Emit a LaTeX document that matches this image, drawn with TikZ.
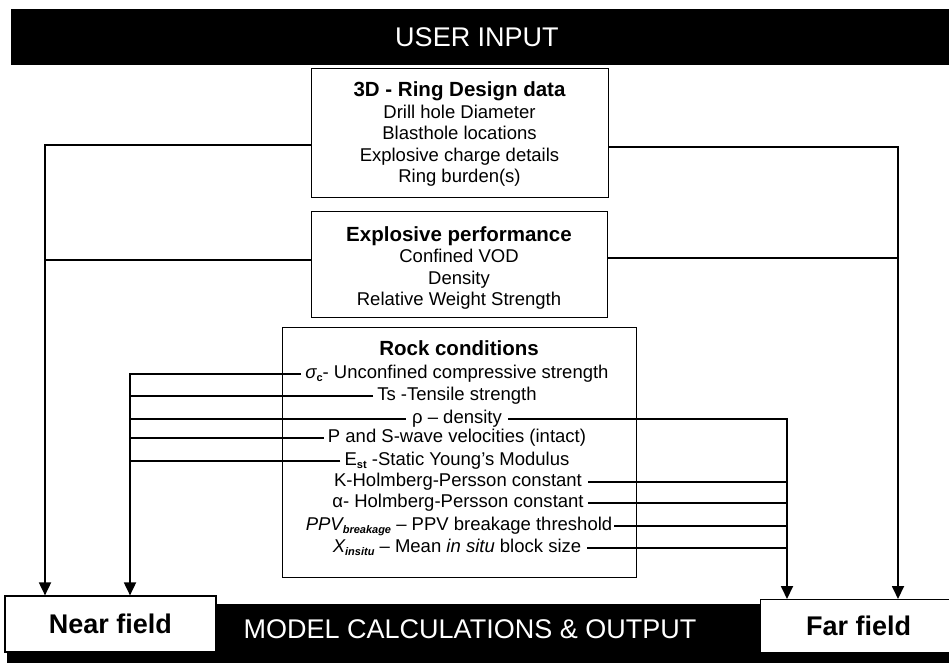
\documentclass[tikz,border=0pt]{standalone}
\usepackage{fontspec}
\setmainfont{Liberation Sans}
\usetikzlibrary{arrows.meta}
\newcommand\sbold[1]{\raisebox{-3pt}{\fontsize{11}{11}\selectfont\bfseries #1}}
\newcommand\sboldit[1]{\raisebox{-3pt}{\fontsize{11}{11}\selectfont\bfseries\itshape #1}}
\begin{document}
\begin{tikzpicture}[x=1pt,y=-1pt,
  box/.style={draw=black, line width=1.2pt, fill=white, inner sep=0pt},
  conn/.style={line width=1.8pt},
  arr/.style={line width=1.8pt, -{Triangle[width=12pt,length=13pt]}},
  txt/.style={font=\fontsize{18.5}{21.5}\selectfont, inner ysep=0pt, inner xsep=4pt, text height=13.5pt, text depth=4pt},
  blk/.style={font=\fontsize{18.5}{21.5}\selectfont, align=center, inner sep=0pt},
  bar/.style={fill=black, inner sep=0pt, anchor=north west},
  bartxt/.style={text=white, font=\fontsize{27}{27}\selectfont},
  field/.style={box, font=\fontsize{27}{27}\selectfont\bfseries}]
\useasboundingbox (0,0) rectangle (949,662);

% bars
\node[bar, minimum width=950pt, minimum height=56pt] (topbar) at (11,9) {};
\node[bartxt] (ui) at (477,37) {USER INPUT};
\node[bar, minimum width=950pt, minimum height=70pt] (botbar) at (7,604) {};
\node[bartxt] (mc) at (470,629) {MODEL CALCULATIONS \& OUTPUT};

% output boxes
\node[field, minimum width=211pt, minimum height=56pt] (nf) at (110.5,624) {Near field};
\node[field, minimum width=196pt, minimum height=53pt, anchor=north west] (ff) at (760,599) {Far field};

% input boxes
\node[box, minimum width=297pt, minimum height=129pt, anchor=north west] (b1) at (311,68) {};
\node[blk] (b1t) at (459.5,134) {{\fontsize{20.5}{21.5}\selectfont\bfseries 3D - Ring Design data}\\
  Drill hole Diameter\\ Blasthole locations\\ Explosive charge details\\ Ring burden(s)};

\node[box, minimum width=296pt, minimum height=106pt, anchor=north west] (b2) at (311,211) {};
\node[blk] (b2t) at (459,268) {{\fontsize{20.5}{21.5}\selectfont\bfseries Explosive performance}\\
  Confined VOD\\ Density\\ Relative Weight Strength};

\node[box, minimum width=354pt, minimum height=250pt, anchor=north west] (b3) at (282,327) {};
\node[font=\fontsize{20.5}{21.5}\selectfont\bfseries] (b3t) at (459,348) {Rock conditions};

\node[txt] (r1) at (457,374) {{\itshape σ}\sbold{c}- Unconfined compressive strength};
\node[txt] (r2) at (457,396) {Ts -Tensile strength};
\node[txt, inner xsep=6pt] (r3) at (457,419) {ρ – density};
\node[txt] (r4) at (457,438) {P and S-wave velocities (intact)};
\node[txt] (r5) at (457,461) {E\sbold{st} -Static Young's Modulus};
\node[txt, inner xsep=6pt] (r6) at (458,482) {K-Holmberg-Persson constant};
\node[txt] (r7) at (458,503) {α- Holmberg-Persson constant};
\node[txt, inner xsep=2pt] (r8) at (459,526) {{\itshape PPV}\sboldit{breakage} – PPV breakage threshold};
\node[txt, inner xsep=6pt] (r9) at (457,548) {{\itshape X}\sboldit{insitu} – Mean {\itshape in situ} block size};

% bus coordinates
\coordinate (L1) at (45,0);
\coordinate (L2) at (130,0);
\coordinate (R1) at (787,0);
\coordinate (R2) at (898,0);

% outer connectors
\draw[arr] ([yshift=-11.5pt]b1.west) -| (L1 |- nf.north);
\draw[conn] ([yshift=5pt]b2.west) -- ([yshift=5pt]b2.west -| L1);
\draw[arr] ([yshift=-13.5pt]b1.east) -| (R2 |- ff.north);
\draw[conn] ([yshift=7pt]b2.east) -- ([yshift=7pt]b2.east -| R2);

% inner left
\draw[arr] (r1.west) -| (L2 |- nf.north);
\foreach \k in {2,3,4,5} \draw[conn] (r\k.west) -- (r\k.west -| L2);

% inner right
\draw[arr] (r3.east) -| (R1 |- ff.north);
\foreach \k in {6,7,8,9} \draw[conn] (r\k.east) -- (r\k.east -| R1);
\end{tikzpicture}
\end{document}
